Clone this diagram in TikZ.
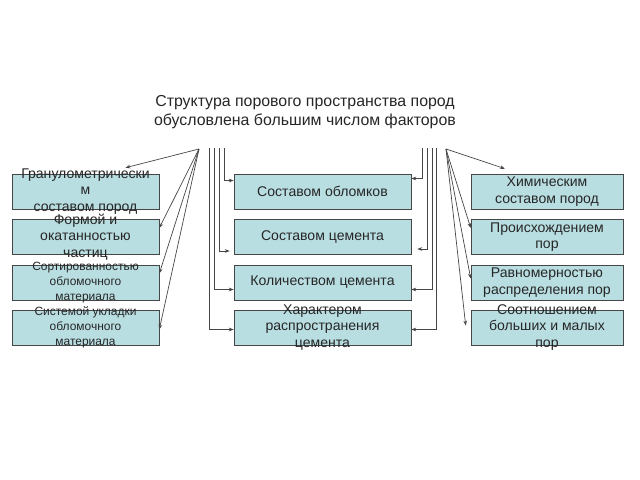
\documentclass[tikz,border=0pt]{standalone}
\usepackage{fontspec}
\setmainfont{Liberation Sans}
\usetikzlibrary{arrows.meta,calc}
\definecolor{boxteal}{RGB}{185,222,225}
\definecolor{linegray}{RGB}{70,70,70}

\begin{document}
\begin{tikzpicture}[x=0.025cm, y=-0.025cm,
    box/.style={draw=linegray, fill=boxteal, minimum height=0.875cm, inner sep=0pt},
    txt/.style={align=center, font=\fontsize{10}{11.7}\selectfont, text=black!85},
    small/.style={align=center, font=\fontsize{8.5}{10.6}\selectfont, text=black!85},
    arr/.style={draw=linegray, line width=0.5pt, -{Stealth[length=3.5pt,width=2.6pt]}}]
  \useasboundingbox (0,0) rectangle (640,480);

  % Title
  \node[align=center, font=\fontsize{11.3}{13.5}\selectfont, text=black!85] (title) at (305,112)
    {Структура порового пространства пород\\обусловлена большим числом факторов};

  % Left column
  \node[box, minimum width=3.675cm, label={[txt]center:{Гранулометрически\\м\\составом пород}}] (l1) at (85.5,191.5) {};
  \node[box, minimum width=3.675cm, label={[txt]center:{Формой и\\окатанностью\\частиц}}] (l2) at (85.5,237) {};
  \node[box, minimum width=3.675cm, label={[small]center:{Сортированностью\\обломочного\\материала}}] (l3) at (85.5,282.5) {};
  \node[box, minimum width=3.675cm, label={[small]center:{Системой укладки\\обломочного\\материала}}] (l4) at (85.5,327.5) {};

  % Middle column
  \node[box, minimum width=4.425cm, label={[txt]center:Составом обломков}] (m1) at (322.5,191.5) {};
  \node[box, minimum width=4.425cm, label={[txt]center:Составом цемента}] (m2) at (322.5,237) {};
  \node[box, minimum width=4.425cm, label={[txt]center:Количеством цемента}] (m3) at (322.5,282.5) {};
  \node[box, minimum width=4.425cm, label={[txt]center:{Характером\\распространения\\цемента}}] (m4) at (322.5,327.5) {};

  % Right column
  \node[box, minimum width=3.8cm, label={[txt]center:{Химическим\\составом пород}}] (r1) at (547,191.5) {};
  \node[box, minimum width=3.8cm, label={[txt]center:{Происхождением\\пор}}] (r2) at (547,237) {};
  \node[box, minimum width=3.8cm, label={[txt]center:{Равномерностью\\распределения пор}}] (r3) at (547,282.5) {};
  \node[box, minimum width=3.8cm, label={[txt]center:{Соотношением\\больших и малых\\пор}}] (r4) at (547,327.5) {};

  % Fans
  \coordinate (lsrc) at (199,149);
  \coordinate (rsrc) at (446,149);
  \draw[arr] (lsrc) -- ($(l1.north)+(40,-6)$);
  \draw[arr] (lsrc) -- ($(l2.east)+(0,-9)$);
  \draw[arr] (lsrc) -- ($(l3.east)+(0,-9)$);
  \draw[arr] (lsrc) -- ($(l4.east)+(0,2)$);
  \draw[arr] (rsrc) -- ($(r1.north)+(-42,-5)$);
  \draw[arr] (rsrc) -- ($(r2.west)+(0,-9)$);
  \draw[arr] (rsrc) -- ($(r3.west)+(0,-4)$);
  \draw[arr] (rsrc) -- ($(r4.west)+(-5,-2)$);

  % Middle feeds
  \foreach \i/\x in {1/224,2/219,3/214,4/209} \coordinate (ml\i) at (\x,148);
  \foreach \i/\x in {1/422,2/427,3/432,4/436} \coordinate (mr\i) at (\x,148);
  \draw[arr] (ml1) |- ($(m1.west)+(0,-11)$);
  \draw[arr] (ml2) |- ($(m2.west)+(-4,14)$);
  \draw[arr] (ml3) |- ($(m3.west)+(0,7)$);
  \draw[arr] (ml4) |- ($(m4.west)+(0,2)$);
  \draw[arr] (mr1) |- ($(m1.east)+(0,-13)$);
  \draw[arr] (mr2) |- ($(m2.east)+(6,12)$);
  \draw[arr] (mr3) |- ($(m3.east)+(0,7)$);
  \draw[arr] (mr4) |- ($(m4.east)+(0,2)$);
\end{tikzpicture}
\end{document}
